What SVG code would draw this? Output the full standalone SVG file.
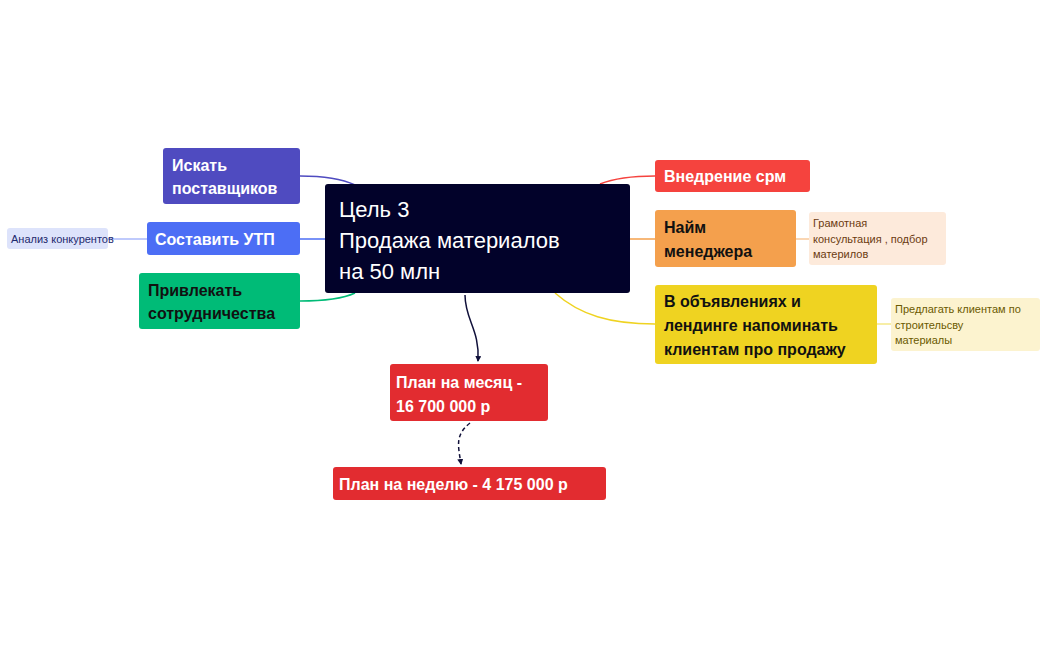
<svg xmlns="http://www.w3.org/2000/svg" width="1049" height="649" viewBox="0 0 1049 649">
<style>
text{font-family:"Liberation Sans",Arial,sans-serif}
.w{fill:#fff;font-size:16px;font-weight:bold}
.b{fill:#111;font-size:16px;font-weight:bold}
.s{font-size:11px}
.c{fill:none;stroke-width:1.5}
</style>
<defs>
<marker id="ar" markerWidth="6" markerHeight="6" refX="5" refY="3" orient="auto" markerUnits="userSpaceOnUse"><path d="M0,0 L6,3 L0,6 z" fill="#10103a"/></marker>
</defs>
<rect width="1049" height="649" fill="#fff"/>
<g id="connectors">
<path class="c" stroke="#4f4bc0" d="M355,185 C340,178 320,176 300,176"/>
<path class="c" stroke="#4c6ef5" d="M300,239 H325"/>
<path class="c" stroke="#aab8fb" d="M108,239 H147"/>
<path class="c" stroke="#00bb77" d="M355,293 C340,300 320,301 300,301"/>
<path class="c" stroke="#f5433e" d="M600,184 C615,178 635,176 655,176"/>
<path class="c" stroke="#f4a04d" d="M630,239 H655"/>
<path class="c" stroke="#f8c89a" d="M796,239 H809"/>
<path class="c" stroke="#efd321" d="M555,293 C580,315 610,324 655,324"/>
<path class="c" stroke="#f5e88a" d="M877,324 H891"/>
<path class="c" stroke="#10103a" stroke-width="1.2" d="M465,295 C465,320 480,330 478,361" marker-end="url(#ar)"/>
<path class="c" stroke="#10103a" stroke-width="1.2" stroke-dasharray="4,3" d="M470,423 C455,435 458,445 461,464" marker-end="url(#ar)"/>
</g>
<g id="central"><rect x="325" y="184" width="305" height="109" rx="3" fill="#02022a"/>
<text fill="#fff" font-size="22" x="339" y="217">Цель 3</text><text fill="#fff" font-size="22" x="339" y="248">Продажа материалов</text><text fill="#fff" font-size="22" x="339" y="279">на 50 млн</text></g>
<g id="n1"><rect x="163" y="148" width="137" height="56" rx="3" fill="#4f4bc0"/><text class="w" x="172" y="171" font-weight="normal">Искать</text><text class="w" x="172" y="194" font-weight="normal">поставщиков</text></g>
<g id="n2"><rect x="147" y="222" width="153" height="33" rx="3" fill="#4c6ef5"/><text class="w" x="155" y="245" font-weight="normal">Составить УТП</text></g>
<g id="n2a"><rect x="7" y="228" width="101" height="21" rx="3" fill="#dde3fb"/><text class="s" fill="#1e2a6e" x="11" y="243">Анализ конкурентов</text></g>
<g id="n3"><rect x="139" y="273" width="161" height="56" rx="3" fill="#00bb77"/><text class="b" x="148" y="296" font-weight="normal">Привлекать</text><text class="b" x="148" y="319" font-weight="normal">сотрудничества</text></g>
<g id="n4"><rect x="655" y="160" width="155" height="32" rx="3" fill="#f5433e"/><text class="w" x="664" y="182">Внедрение срм</text></g>
<g id="n5"><rect x="655" y="210" width="141" height="57" rx="3" fill="#f4a04d"/><text class="b" x="664" y="233">Найм</text><text class="b" x="664" y="257">менеджера</text></g>
<g id="n5a"><rect x="809" y="212" width="137" height="53" rx="3" fill="#fdeadb"/><text class="s" fill="#6b3a10" x="813" y="227">Грамотная</text><text class="s" fill="#6b3a10" x="813" y="243">консультация , подбор</text><text class="s" fill="#6b3a10" x="813" y="258">материлов</text></g>
<g id="n6"><rect x="655" y="285" width="222" height="79" rx="3" fill="#efd321"/><text class="b" x="664" y="307">В объявлениях и</text><text class="b" x="664" y="331">лендинге напоминать</text><text class="b" x="664" y="355">клиентам про продажу</text></g>
<g id="n6a"><rect x="891" y="298" width="149" height="53" rx="3" fill="#fcf3cf"/><text class="s" fill="#6b5a00" x="895" y="313">Предлагать клиентам по</text><text class="s" fill="#6b5a00" x="895" y="329">строительсву</text><text class="s" fill="#6b5a00" x="895" y="344">материалы</text></g>
<g id="n7"><rect x="390" y="364" width="158" height="57" rx="3" fill="#e22c30"/><text class="w" x="396" y="388">План на месяц -</text><text class="w" x="396" y="412">16 700 000 р</text></g>
<g id="n8"><rect x="333" y="467" width="273" height="33" rx="3" fill="#e22c30"/><text class="w" x="339" y="490">План на неделю - 4 175 000 р</text></g>
</svg>
